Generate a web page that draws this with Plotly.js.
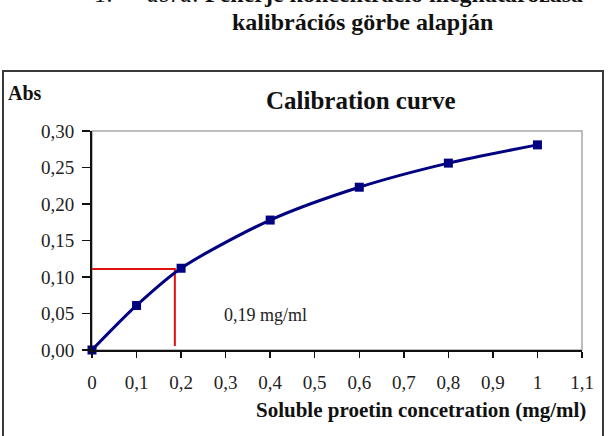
<!DOCTYPE html>
<html>
<head>
<meta charset="utf-8">
<script src="https://cdn.plot.ly/plotly-3.0.1.min.js"></script>
<style>
  html, body { margin: 0; padding: 0; background: #ffffff; }
  #chart { width: 611px; height: 436px; }
</style>
</head>
<body>
<div id="chart"></div>
<script>
// ---- data ----
const concentration = [0, 0.1, 0.2, 0.4, 0.6, 0.8, 1.0];
const absorbance    = [0, 0.061, 0.112, 0.178, 0.223, 0.256, 0.281];

const readX = [0, 0.186, 0.186];
const readY = [0.111, 0.111, 0.0055];
const readLabel = '0,19 mg/ml';
const readLabelX = 0.39;
const readLabelY = 0.048;

const xTickVals = [0, 0.1, 0.2, 0.3, 0.4, 0.5, 0.6, 0.7, 0.8, 0.9, 1.0, 1.1];
const xTickText = ['0', '0,1', '0,2', '0,3', '0,4', '0,5', '0,6', '0,7', '0,8', '0,9', '1', '1,1'];
const yTickVals = [0, 0.05, 0.10, 0.15, 0.20, 0.25, 0.30];
const yTickText = ['0,00', '0,05', '0,10', '0,15', '0,20', '0,25', '0,30'];

const captionNum = '1.';
const captionWord = 'ábra:';
const captionLine1 = 'Fehérje koncentráció meghatározása';
const captionLine2 = 'kalibrációs görbe alapján';
const chartTitle = 'Calibration curve';
const yLabel = 'Abs';
const xLabel = 'Soluble proetin concetration (mg/ml)';

// ---- chart ----
const serif = 'Liberation Serif, Times New Roman, serif';
const navy = '#000080';

const traces = [
  {
    x: readX, y: readY, type: 'scatter', mode: 'lines',
    line: { color: '#e01010', width: 2 },
    hoverinfo: 'skip', showlegend: false
  },
  {
    x: concentration, y: absorbance, type: 'scatter', mode: 'lines+markers',
    line: { color: navy, width: 3, shape: 'spline', smoothing: 0.8 },
    marker: { symbol: 'square', size: 9, color: navy },
    cliponaxis: false, showlegend: false
  }
];

// pixel -> paper helpers (plot area: x 92..582, y 131..350)
const L = 92, R = 582, T = 131, B = 350;
const px = v => (v - L) / (R - L);
const py = v => (B - v) / (B - T);

const layout = {
  width: 611, height: 436,
  margin: { l: L, r: 611 - R, t: T, b: 436 - B, pad: 0 },
  paper_bgcolor: '#ffffff', plot_bgcolor: '#ffffff',
  showlegend: false,
  font: { family: serif, size: 20, color: '#222222' },
  xaxis: {
    range: [0, 1.1], tickmode: 'array', tickvals: xTickVals, ticktext: xTickText,
    showgrid: false, zeroline: false,
    showline: true, linecolor: '#111111', linewidth: 2,
    ticks: 'outside', ticklen: 6, tickwidth: 1.5, tickcolor: '#111111',
    ticklabelstandoff: 8,
    tickfont: { family: serif, size: 19, color: '#222222' }
  },
  yaxis: {
    range: [0, 0.3], tickmode: 'array', tickvals: yTickVals, ticktext: yTickText,
    showgrid: false, zeroline: false,
    showline: true, linecolor: '#111111', linewidth: 2,
    ticks: 'outside', ticklen: 8, tickwidth: 1.5, tickcolor: '#111111',
    ticklabelstandoff: 4,
    tickfont: { family: serif, size: 19, color: '#222222' }
  },
  shapes: [
    { type: 'rect', xref: 'paper', yref: 'paper', x0: 0, x1: 1, y0: 0, y1: 1,
      line: { color: '#a8a8a8', width: 1.5 }, layer: 'below' },
    { type: 'rect', xref: 'paper', yref: 'paper',
      x0: px(3), x1: px(603), y0: py(445), y1: py(71),
      line: { color: '#3a3a3a', width: 2 }, fillcolor: 'rgba(0,0,0,0)', layer: 'below' }
  ],
  annotations: [
    { text: captionNum, xref: 'paper', yref: 'paper', x: px(93), y: py(-6),
      xanchor: 'left', yanchor: 'middle', showarrow: false,
      font: { family: serif, size: 24, color: '#111111', style: 'italic' } },
    { text: captionWord, xref: 'paper', yref: 'paper', x: px(145), y: py(-6),
      xanchor: 'left', yanchor: 'middle', showarrow: false,
      font: { family: serif, size: 24, color: '#111111', style: 'italic' } },
    { text: '<b>' + captionLine1 + '</b>', xref: 'paper', yref: 'paper', x: px(203), y: py(-6),
      xanchor: 'left', yanchor: 'middle', showarrow: false,
      font: { family: serif, size: 24, color: '#111111' } },
    { text: '<b>' + captionLine2 + '</b>', xref: 'paper', yref: 'paper', x: px(362), y: py(22),
      xanchor: 'center', yanchor: 'middle', showarrow: false,
      font: { family: serif, size: 24, color: '#111111' } },
    { text: '<b>' + chartTitle + '</b>', xref: 'paper', yref: 'paper', x: px(361), y: py(101),
      xanchor: 'center', yanchor: 'middle', showarrow: false,
      font: { family: serif, size: 25, color: '#111111' } },
    { text: '<b>' + yLabel + '</b>', xref: 'paper', yref: 'paper', x: px(6), y: py(93),
      xanchor: 'left', yanchor: 'middle', showarrow: false,
      font: { family: serif, size: 20, color: '#111111' } },
    { text: '<b>' + xLabel + '</b>', xref: 'paper', yref: 'paper', x: px(588), y: py(410),
      xanchor: 'right', yanchor: 'middle', showarrow: false,
      font: { family: serif, size: 21, color: '#111111' } },
    { text: readLabel, xref: 'x', yref: 'y', x: readLabelX, y: readLabelY,
      xanchor: 'center', yanchor: 'middle', showarrow: false,
      font: { family: serif, size: 18, color: '#222222' } }
  ]
};

Plotly.newPlot('chart', traces, layout, { displayModeBar: false, staticPlot: true });
</script>
</body>
</html>
